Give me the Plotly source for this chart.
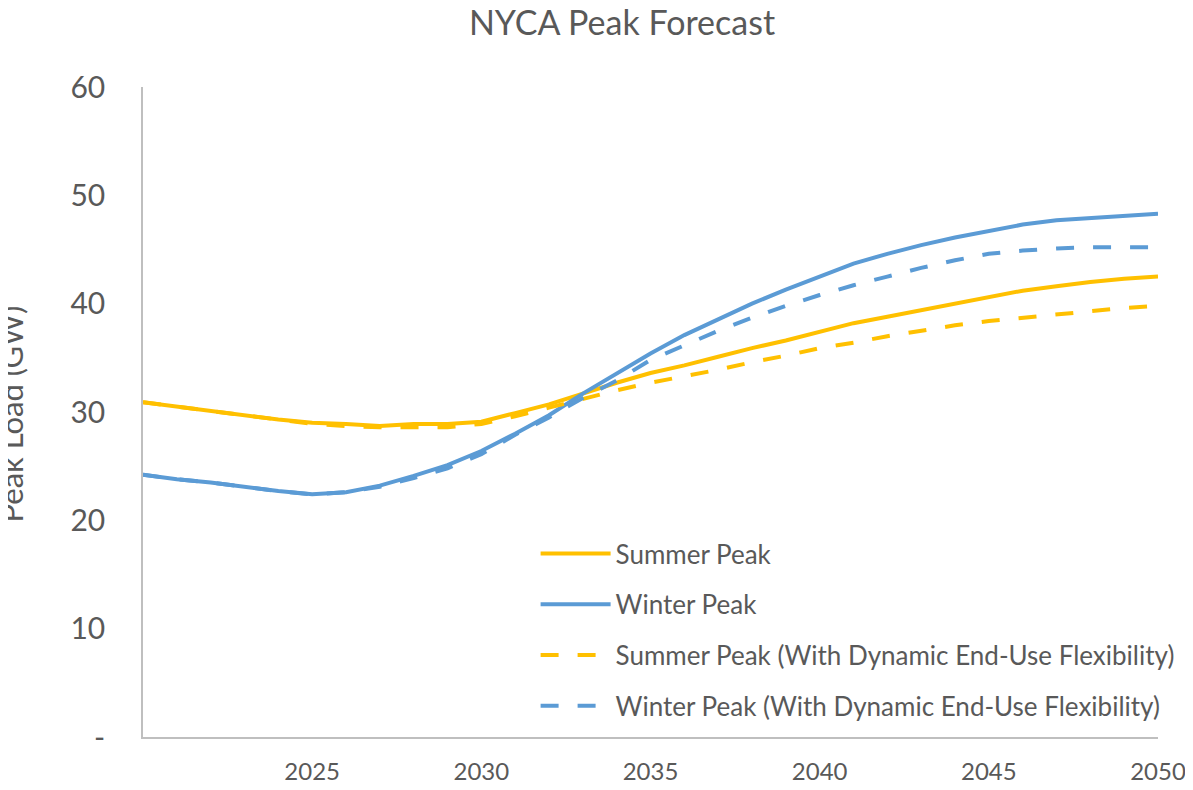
import plotly.graph_objects as go

years = list(range(2020, 2051))

summer_peak = [30.9, 30.5, 30.1, 29.7, 29.3, 29.0, 28.9, 28.7, 28.9, 28.9,
               29.1, 29.9, 30.7, 31.7, 32.7, 33.6, 34.3, 35.1, 35.9, 36.6,
               37.4, 38.2, 38.8, 39.4, 40.0, 40.6, 41.2, 41.6, 42.0, 42.3, 42.5]
winter_peak = [24.2, 23.8, 23.5, 23.1, 22.7, 22.4, 22.6, 23.2, 24.1, 25.1,
               26.4, 28.0, 29.7, 31.7, 33.6, 35.4, 37.1, 38.6, 40.0, 41.3,
               42.5, 43.7, 44.6, 45.4, 46.1, 46.7, 47.3, 47.7, 47.9, 48.1, 48.3]
summer_flex = [30.9, 30.5, 30.1, 29.7, 29.3, 28.9, 28.7, 28.6, 28.6, 28.6,
               28.9, 29.6, 30.4, 31.2, 32.0, 32.7, 33.3, 33.9, 34.6, 35.2,
               35.9, 36.4, 37.0, 37.5, 38.0, 38.4, 38.7, 39.0, 39.3, 39.6, 39.8]
winter_flex = [24.2, 23.8, 23.5, 23.1, 22.7, 22.4, 22.6, 23.1, 23.9, 24.8,
               26.1, 27.9, 29.5, 31.3, 32.9, 34.8, 36.2, 37.5, 38.7, 39.8,
               40.8, 41.7, 42.5, 43.3, 44.0, 44.6, 44.9, 45.1, 45.2, 45.2, 45.2]

series_names = ["Summer Peak", "Winter Peak",
                "Summer Peak (With Dynamic End-Use Flexibility)",
                "Winter Peak (With Dynamic End-Use Flexibility)"]

x_tickvals = [2025, 2030, 2035, 2040, 2045, 2050]
y_tickvals = [0, 10, 20, 30, 40, 50, 60]
y_ticktext = ["-", "10", "20", "30", "40", "50", "60"]

YELLOW = "#FFC000"
BLUE = "#5B9BD5"
GRAY = "#595959"
FONT = "Lato"

# page has an 8px body margin; figure sized so plot area sits at x 143-1158, y 87-737
W, H = 1185, 782
ML, MR, MT, MB = 135, 35, 79, 53
PW = W - ML - MR
PH = H - MT - MB

fig = go.Figure()
styles = [(summer_peak, YELLOW, "solid"), (winter_peak, BLUE, "solid"),
          (summer_flex, YELLOW, "18px,19px"), (winter_flex, BLUE, "18px,19px")]
for i, ((vals, col, dash), name) in enumerate(zip(styles, series_names)):
    fig.add_trace(go.Scatter(x=years, y=vals, mode="lines", name=name,
                             legendgroup=f"g{i}",
                             line=dict(color=col, width=4, dash=dash)))

fig.update_layout(
    width=W, height=H,
    margin=dict(l=ML, r=MR, t=MT, b=MB, autoexpand=False),
    paper_bgcolor="white", plot_bgcolor="white",
    font=dict(family=FONT, color=GRAY),
    title=dict(text="NYCA Peak Forecast", x=614 / W, xref="container",
               y=1 - 15 / H, yref="container", xanchor="center", yanchor="middle",
               font=dict(size=34, color=GRAY, family=FONT)),
    showlegend=True,
    legend=dict(x=(527.6 - ML) / PW, y=(MT + PH - 522) / PH, xanchor="left", yanchor="top",
                font=dict(size=26, color=GRAY, family=FONT),
                tracegroupgap=14, itemwidth=70, bgcolor="rgba(0,0,0,0)"),
    xaxis=dict(range=[2020, 2050], tickvals=x_tickvals, showgrid=False,
               zeroline=False, showline=True, linecolor="#BFBFBF", linewidth=1.5,
               ticks="", tickfont=dict(size=24, color=GRAY, family=FONT),
               ticklabelstandoff=12, automargin=False),
    yaxis=dict(range=[0, 60], tickvals=y_tickvals, ticktext=y_ticktext,
               showgrid=False, zeroline=False, showline=True,
               linecolor="#BFBFBF", linewidth=1.5, ticks="",
               tickfont=dict(size=30, color=GRAY, family=FONT),
               ticklabelstandoff=30, automargin=False),
)

fig.add_annotation(text="Peak Load (GW)", textangle=-90, xref="paper", yref="paper",
                   x=(2.5 - ML) / PW, y=(MT + PH - 406) / PH, xanchor="center",
                   yanchor="middle", showarrow=False,
                   font=dict(size=31, color=GRAY, family=FONT))

fig.write_html("out.html")
